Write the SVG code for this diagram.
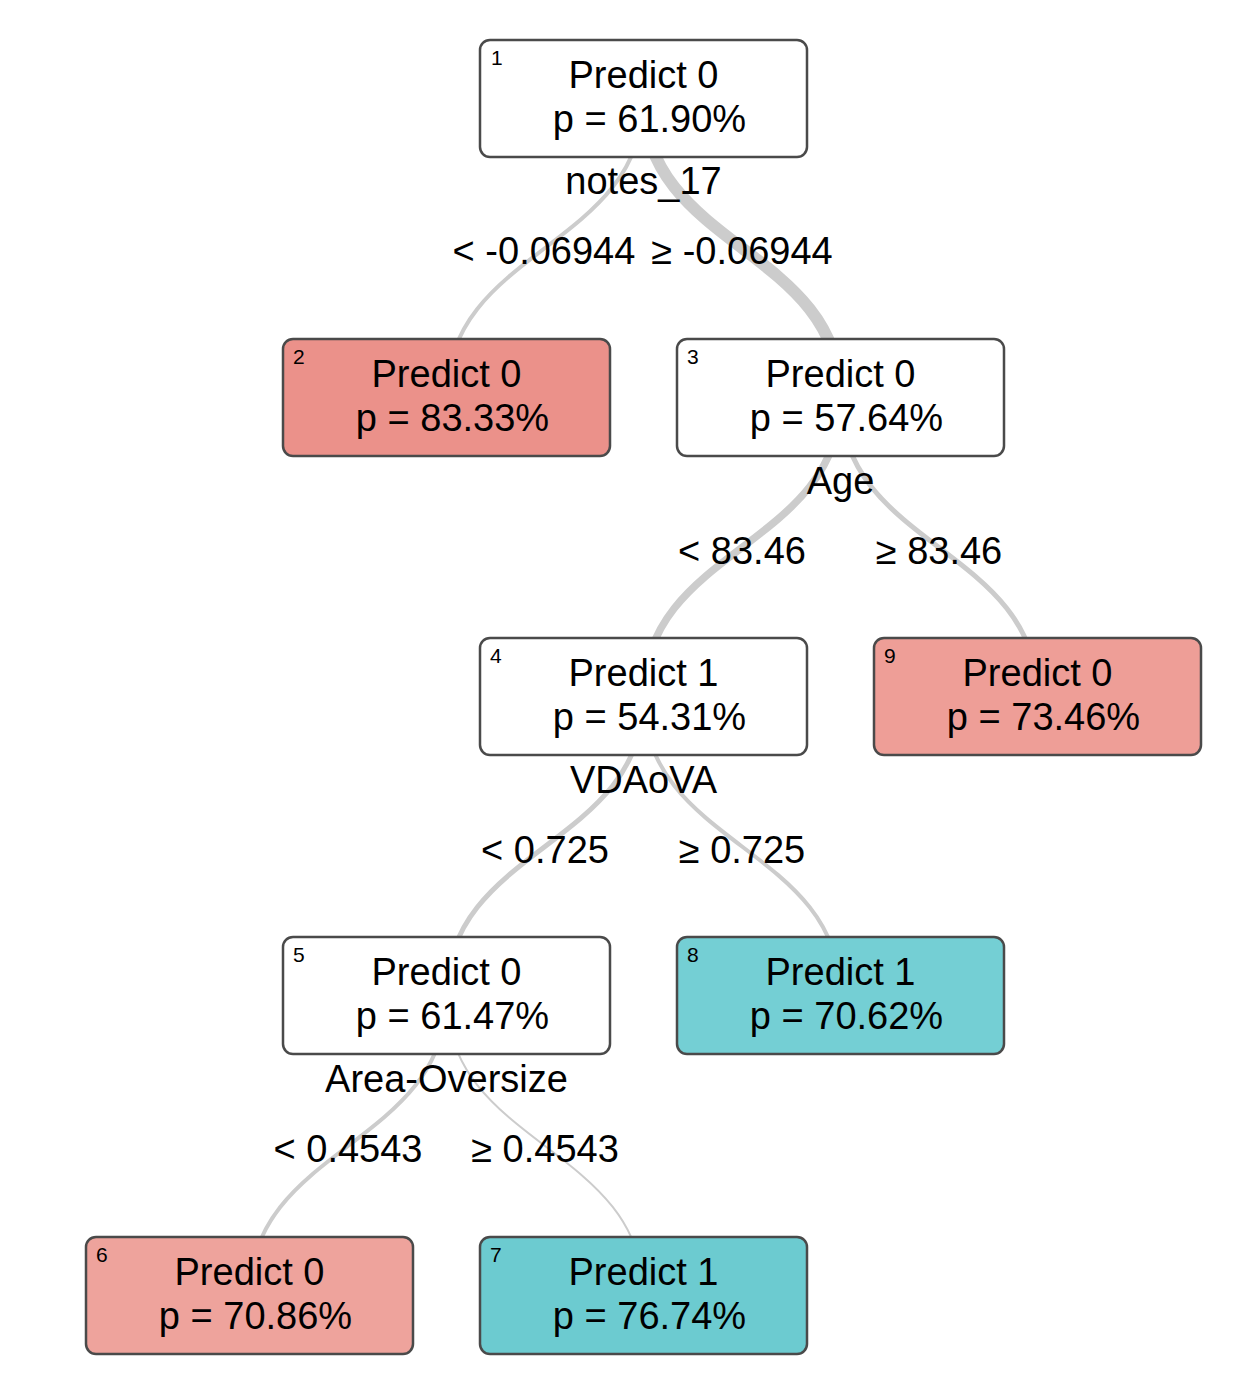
<svg xmlns="http://www.w3.org/2000/svg" width="1244" height="1386" viewBox="0 0 1244 1386">
<style>
.edge{fill:none;stroke:#cccccc;stroke-linecap:butt}
.box{stroke:#4a4a4a;stroke-width:2.5}
.t{font-family:"Liberation Sans",Arial,Helvetica,sans-serif;font-size:38px;fill:#000;text-anchor:middle}
.n{font-family:"Liberation Sans",Arial,Helvetica,sans-serif;font-size:21px;fill:#000}
.white{fill:#ffffff}
</style>
<rect x="0" y="0" width="1244" height="1386" fill="#ffffff"/>
<g id="connectors">
<path class="edge" stroke-width="4" d="M643.5,98 C643.5,248 446.5,248 446.5,398"/>
<path class="edge" stroke-width="12" d="M643.5,98 C643.5,248 840.5,248 840.5,398"/>
<path class="edge" stroke-width="7.5" d="M840.5,398 C840.5,547.5 643.5,547.5 643.5,697"/>
<path class="edge" stroke-width="5" d="M840.5,398 C840.5,547.5 1037.5,547.5 1037.5,697"/>
<path class="edge" stroke-width="5" d="M643.5,697 C643.5,846.5 446.5,846.5 446.5,996"/>
<path class="edge" stroke-width="4" d="M643.5,697 C643.5,846.5 840.5,846.5 840.5,996"/>
<path class="edge" stroke-width="4" d="M446.5,996 C446.5,1146 249.5,1146 249.5,1296"/>
<path class="edge" stroke-width="2" d="M446.5,996 C446.5,1146 643.5,1146 643.5,1296"/>
</g>
<g id="edge-labels">
<text class="t" x="544" y="264">&lt; -0.06944</text>
<text class="t" x="742" y="264">≥ -0.06944</text>
<text class="t" x="742" y="564">&lt; 83.46</text>
<text class="t" x="939" y="564">≥ 83.46</text>
<text class="t" x="545" y="863">&lt; 0.725</text>
<text class="t" x="742" y="863">≥ 0.725</text>
<text class="t" x="348" y="1162">&lt; 0.4543</text>
<text class="t" x="545" y="1162">≥ 0.4543</text>
</g>
<g id="node1">
<rect class="box white" x="480" y="40" width="327" height="117" rx="10"/>
<text class="n" x="491" y="65">1</text>
<text class="t" x="643.5" y="88">Predict 0</text>
<text class="t" x="649.5" y="132">p = 61.90%</text>
<text class="t" x="643.5" y="194">notes_17</text>
</g>
<g id="node2">
<rect class="box" fill="#eb918a" x="283" y="339" width="327" height="117" rx="10"/>
<text class="n" x="293" y="364">2</text>
<text class="t" x="446.5" y="387">Predict 0</text>
<text class="t" x="452.5" y="431">p = 83.33%</text>
</g>
<g id="node3">
<rect class="box white" x="677" y="339" width="327" height="117" rx="10"/>
<text class="n" x="687" y="364">3</text>
<text class="t" x="840.5" y="387">Predict 0</text>
<text class="t" x="846.5" y="431">p = 57.64%</text>
<text class="t" x="840.5" y="494">Age</text>
</g>
<g id="node4">
<rect class="box white" x="480" y="638" width="327" height="117" rx="10"/>
<text class="n" x="490" y="663">4</text>
<text class="t" x="643.5" y="686">Predict 1</text>
<text class="t" x="649.5" y="730">p = 54.31%</text>
<text class="t" x="643.5" y="793">VDAoVA</text>
</g>
<g id="node9">
<rect class="box" fill="#ee9e97" x="874" y="638" width="327" height="117" rx="10"/>
<text class="n" x="884" y="663">9</text>
<text class="t" x="1037.5" y="686">Predict 0</text>
<text class="t" x="1043.5" y="730">p = 73.46%</text>
</g>
<g id="node5">
<rect class="box white" x="283" y="937" width="327" height="117" rx="10"/>
<text class="n" x="293" y="962">5</text>
<text class="t" x="446.5" y="985">Predict 0</text>
<text class="t" x="452.5" y="1029">p = 61.47%</text>
<text class="t" x="446.5" y="1092">Area-Oversize</text>
</g>
<g id="node8">
<rect class="box" fill="#74cfd4" x="677" y="937" width="327" height="117" rx="10"/>
<text class="n" x="687" y="962">8</text>
<text class="t" x="840.5" y="985">Predict 1</text>
<text class="t" x="846.5" y="1029">p = 70.62%</text>
</g>
<g id="node6">
<rect class="box" fill="#eea39c" x="86" y="1237" width="327" height="117" rx="10"/>
<text class="n" x="96" y="1262">6</text>
<text class="t" x="249.5" y="1285">Predict 0</text>
<text class="t" x="255.5" y="1329">p = 70.86%</text>
</g>
<g id="node7">
<rect class="box" fill="#6ccbd0" x="480" y="1237" width="327" height="117" rx="10"/>
<text class="n" x="490" y="1262">7</text>
<text class="t" x="643.5" y="1285">Predict 1</text>
<text class="t" x="649.5" y="1329">p = 76.74%</text>
</g>
</svg>
